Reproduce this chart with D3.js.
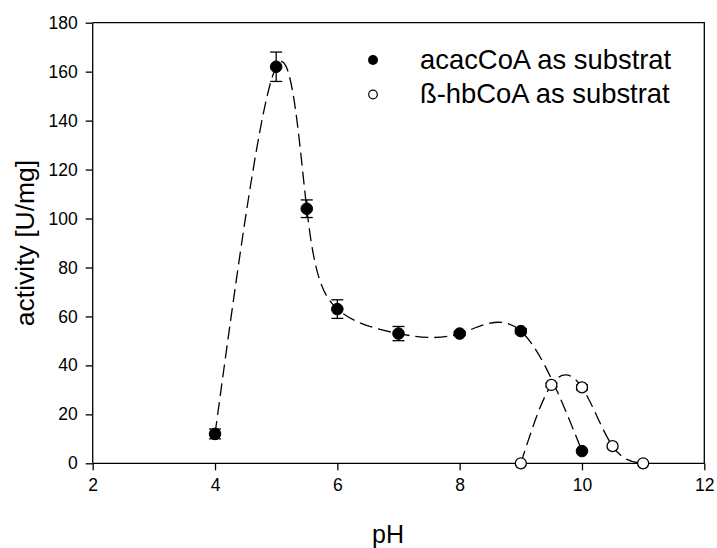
<!DOCTYPE html>
<html>
<head>
<meta charset="utf-8">
<script src="https://cdn.jsdelivr.net/npm/d3@7"></script>
<style>
  html, body { margin: 0; padding: 0; background: #fff; }
  svg { display: block; }
  text { font-family: "Liberation Sans", Arial, sans-serif; fill: #000; }
</style>
</head>
<body>
<script>
// ---- data ----
const acacPH   = [4, 5, 5.5, 6, 7, 8, 9, 10];
const acacAct  = [12, 162, 104, 63, 53, 53, 54, 5];
const acacErr  = [2, 6, 3.6, 3.8, 2.9, 0.8, 1, 0];

const hbPH     = [9, 9.5, 10, 10.5, 11];
const hbAct    = [0, 32, 31, 7, 0];
const hbErr    = [0, 0.8, 1, 0, 0];

const xTicks = [2, 4, 6, 8, 10, 12];
const yTicks = [0, 20, 40, 60, 80, 100, 120, 140, 160, 180];
const legendLabels = ["acacCoA as substrat", "ß-hbCoA as substrat"];

// ---- layout ----
const W = 717, H = 548;
const L = 92.7, R = 704.3, T = 22.7, B = 463.3;

const svg = d3.select("body").append("svg").attr("width", W).attr("height", H);

const x = d3.scaleLinear().domain([2, 12]).range([L, R]);
const y = d3.scaleLinear().domain([0, 180]).range([B, T]);

// frame (top & right)
svg.append("path")
  .attr("d", `M${L},${T}H${R}V${B}`)
  .attr("fill", "none").attr("stroke", "#000").attr("stroke-width", 1.3);

// axes
const xAxis = svg.append("g").attr("transform", `translate(0,${B})`)
  .call(d3.axisBottom(x).tickValues(xTicks).tickSize(7).tickPadding(5).tickFormat(d3.format("d")));
const yAxis = svg.append("g").attr("transform", `translate(${L},0)`)
  .call(d3.axisLeft(y).tickValues(yTicks).tickSize(7).tickPadding(8).tickFormat(d3.format("d")));
[xAxis, yAxis].forEach(g => {
  g.select(".domain").attr("stroke", "#000").attr("stroke-width", 1.3);
  g.selectAll(".tick line").attr("stroke", "#000").attr("stroke-width", 1.3);
  g.selectAll(".tick text").attr("font-size", "17.5px")
    .attr("font-family", "'Liberation Sans', Arial, sans-serif").attr("fill", "#000");
});
xAxis.select(".domain").attr("d", `M${L},0H${R}`);
yAxis.select(".domain").attr("d", `M0,${B}V${T}`);
xAxis.selectAll(".tick text").attr("dy", "0.9em");

// axis titles
svg.append("text").attr("x", 388).attr("y", 543).attr("text-anchor", "middle")
  .attr("font-size", "25px").text("pH");
svg.append("text").attr("transform", `translate(33.5,${(T + B) / 2}) rotate(-90)`)
  .attr("text-anchor", "middle").attr("font-size", "26.5px").text("activity [U/mg]");

// curves
const acac = acacPH.map((p, i) => ({ p, v: acacAct[i], e: acacErr[i] }));
const hb = hbPH.map((p, i) => ({ p, v: hbAct[i], e: hbErr[i] }));

const line = d3.line().x(d => x(d.p)).y(d => y(d.v)).curve(d3.curveNatural);
[acac, hb].forEach(data => {
  svg.append("path").datum(data).attr("d", line)
    .attr("fill", "none").attr("stroke", "#000").attr("stroke-width", 1.3)
    .attr("stroke-dasharray", "13,6");
});

// error bars
function errBars(data) {
  const g = svg.append("g").attr("stroke", "#000").attr("stroke-width", 1.3);
  data.filter(d => d.e > 0).forEach(d => {
    const cx = x(d.p), y1 = y(d.v + d.e), y2 = y(d.v - d.e);
    g.append("line").attr("x1", cx).attr("x2", cx).attr("y1", y1).attr("y2", y2);
    g.append("line").attr("x1", cx - 6).attr("x2", cx + 6).attr("y1", y1).attr("y2", y1);
    g.append("line").attr("x1", cx - 6).attr("x2", cx + 6).attr("y1", y2).attr("y2", y2);
  });
}
errBars(acac);
errBars(hb);

// markers
svg.append("g").selectAll("circle").data(acac).join("circle")
  .attr("cx", d => x(d.p)).attr("cy", d => y(d.v)).attr("r", 5.8)
  .attr("fill", "#000").attr("stroke", "#000").attr("stroke-width", 1);
svg.append("g").selectAll("circle").data(hb).join("circle")
  .attr("cx", d => x(d.p)).attr("cy", d => y(d.v)).attr("r", 5.5)
  .attr("fill", "#fff").attr("stroke", "#000").attr("stroke-width", 1.3);

// legend
const lg = svg.append("g");
lg.append("circle").attr("cx", 373).attr("cy", 60).attr("r", 5).attr("fill", "#000");
lg.append("circle").attr("cx", 373).attr("cy", 94.5).attr("r", 4.3)
  .attr("fill", "#fff").attr("stroke", "#000").attr("stroke-width", 1.2);
lg.append("text").attr("x", 420).attr("y", 68.5).attr("font-size", "27.4px").text(legendLabels[0]);
lg.append("text").attr("x", 420).attr("y", 102.5).attr("font-size", "27.4px").text(legendLabels[1]);
</script>
</body>
</html>
